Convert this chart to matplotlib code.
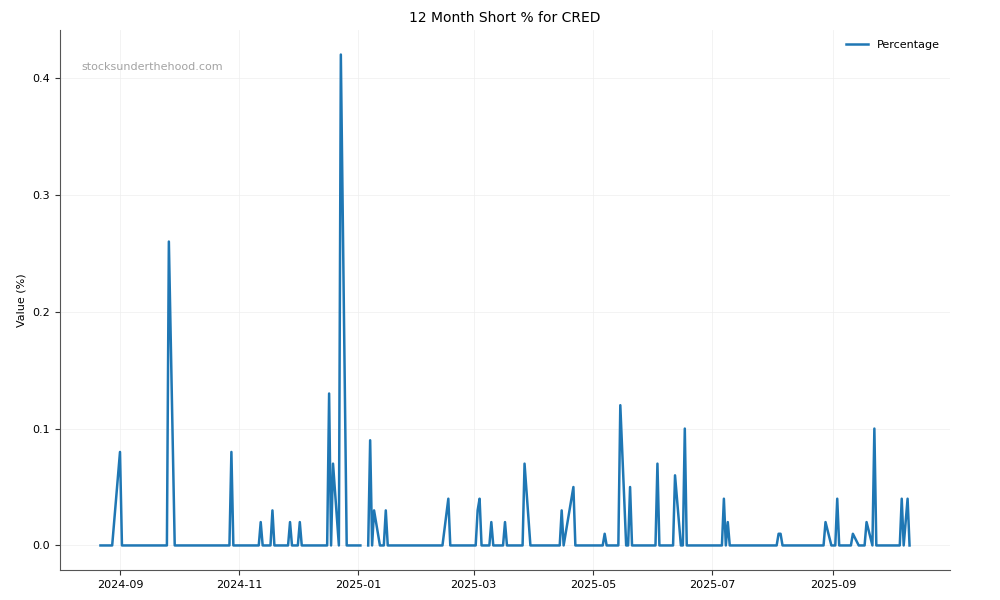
import numpy as np
import pandas as pd
import matplotlib
matplotlib.use('Agg')
import matplotlib.pyplot as plt
import matplotlib.dates as mdates

# short % readings (dates where the line turns), NaN = missing data
dates = [
    '2024-08-22', '2024-08-28', '2024-09-01', '2024-09-02', '2024-09-25', '2024-09-26',
    '2024-09-29', '2024-10-27', '2024-10-28', '2024-10-29', '2024-11-11', '2024-11-12',
    '2024-11-13', '2024-11-17', '2024-11-18', '2024-11-19', '2024-11-26', '2024-11-27',
    '2024-11-28', '2024-12-01', '2024-12-02', '2024-12-03', '2024-12-16', '2024-12-17',
    '2024-12-18', '2024-12-19', '2024-12-22', '2024-12-23', '2024-12-26', '2025-01-02',
    '2025-01-04', '2025-01-06', '2025-01-07', '2025-01-08', '2025-01-09', '2025-01-12',
    '2025-01-14', '2025-01-15', '2025-01-16', '2025-02-13', '2025-02-16', '2025-02-17',
    '2025-03-02', '2025-03-03', '2025-03-04', '2025-03-05', '2025-03-09', '2025-03-10',
    '2025-03-11', '2025-03-16', '2025-03-17', '2025-03-18', '2025-03-26', '2025-03-27',
    '2025-03-30', '2025-04-14', '2025-04-15', '2025-04-16', '2025-04-21', '2025-04-22',
    '2025-05-06', '2025-05-07', '2025-05-08', '2025-05-14', '2025-05-15', '2025-05-18',
    '2025-05-19', '2025-05-20', '2025-05-21', '2025-06-02', '2025-06-03', '2025-06-04',
    '2025-06-11', '2025-06-12', '2025-06-15', '2025-06-16', '2025-06-17', '2025-06-18',
    '2025-07-06', '2025-07-07', '2025-07-08', '2025-07-09', '2025-07-10', '2025-08-03',
    '2025-08-04', '2025-08-05', '2025-08-06', '2025-08-27', '2025-08-28', '2025-08-31',
    '2025-09-02', '2025-09-03', '2025-09-04', '2025-09-10', '2025-09-11', '2025-09-14',
    '2025-09-17', '2025-09-18', '2025-09-21', '2025-09-22', '2025-09-23', '2025-10-05',
    '2025-10-06', '2025-10-07', '2025-10-09', '2025-10-10',
]
values = [
    0, 0, 0.08, 0, 0, 0.26,
    0, 0, 0.08, 0, 0, 0.02,
    0, 0, 0.03, 0, 0, 0.02,
    0, 0, 0.02, 0, 0, 0.13,
    0, 0.07, 0, 0.42, 0, 0,
    np.nan, 0, 0.09, 0, 0.03, 0,
    0, 0.03, 0, 0, 0.04, 0,
    0, 0.03, 0.04, 0, 0, 0.02,
    0, 0, 0.02, 0, 0, 0.07,
    0, 0, 0.03, 0, 0.05, 0,
    0, 0.01, 0, 0, 0.12, 0,
    0, 0.05, 0, 0, 0.07, 0,
    0, 0.06, 0, 0, 0.10, 0,
    0, 0.04, 0, 0.02, 0, 0,
    0.01, 0.01, 0, 0, 0.02, 0,
    0, 0.04, 0, 0, 0.01, 0,
    0, 0.02, 0, 0.10, 0,
    0, 0.04, 0, 0.04, 0,
]

df = pd.DataFrame({'Date': pd.to_datetime(dates), 'Percentage': values})

fig, ax = plt.subplots(figsize=(10, 6), dpi=100)
fig.subplots_adjust(left=0.06, right=0.95, bottom=0.05, top=0.95)

ax.plot(df['Date'], df['Percentage'], color='#1f77b4', linewidth=1.8, label='Percentage')

ax.set_title('12 Month Short % for CRED', fontsize=10)
ax.set_ylabel('Value (%)', fontsize=8)
ax.tick_params(labelsize=8, color='#333333')

ax.xaxis.set_major_locator(mdates.MonthLocator(bymonth=[1, 3, 5, 7, 9, 11]))
ax.xaxis.set_major_formatter(mdates.DateFormatter('%Y-%m'))

ax.grid(True, color='#eeeeee', linewidth=0.6, alpha=0.8)
ax.spines['top'].set_visible(False)
ax.spines['right'].set_visible(False)
ax.spines['left'].set_color('#555555')
ax.spines['bottom'].set_color('#555555')

ax.text(0.024, 0.926, 'stocksunderthehood.com', transform=ax.transAxes,
        fontsize=8, color='#999999', alpha=0.9)

ax.legend(loc='upper right', frameon=False, fontsize=8)

plt.savefig('out.png', dpi=100)
